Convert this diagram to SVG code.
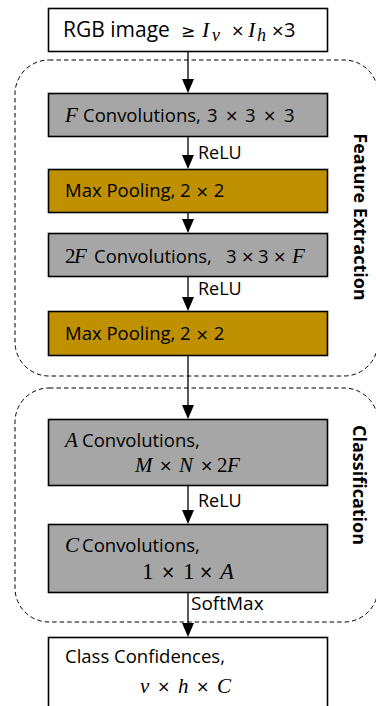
<svg xmlns="http://www.w3.org/2000/svg" width="376" height="706" viewBox="0 0 376 706">
<style>
.box{stroke:#000;stroke-width:1.6}
.white{fill:#fff}
.gray{fill:#a6a6a6}
.gold{fill:#bf9000}
.grp{fill:none;stroke:#000;stroke-width:1;stroke-dasharray:4.5 3}
.t{font-family:"Open Sans","Noto Sans",sans-serif;font-size:18.5px;fill:#000}
.lbl{font-family:"Open Sans","Noto Sans",sans-serif;font-size:18px;fill:#000}
.m{font-family:"Liberation Serif","DejaVu Serif",serif;font-style:italic;font-size:21px;fill:#000}
.n{font-family:"Liberation Serif","DejaVu Serif",serif;font-size:21px;fill:#000}
.x{font-family:"DejaVu Sans",sans-serif;font-size:16px;fill:#000}
.side{font-family:"Open Sans","Noto Sans",sans-serif;font-weight:bold;font-size:18px;fill:#000}
.edge{stroke:#000;stroke-width:1.3;fill:none}
</style>

<g id="group-feature">
<rect class="grp" x="15" y="60" width="363" height="316" rx="34" ry="34"/>
<text class="side" transform="translate(354 217) rotate(90)" text-anchor="middle">Feature Extraction</text>
</g>
<g id="group-classification">
<rect class="grp" x="15" y="388" width="363" height="234" rx="34" ry="34"/>
<text class="side" transform="translate(353 485) rotate(90)" text-anchor="middle">Classification</text>
</g>

<g id="connectors">
<g class="edge">
<line x1="188" y1="52" x2="188" y2="80"/>
<line x1="188" y1="137" x2="188" y2="156"/>
<line x1="188" y1="213" x2="188" y2="220"/>
<line x1="188" y1="277" x2="188" y2="298"/>
<line x1="188" y1="356" x2="188" y2="406"/>
<line x1="188" y1="486" x2="188" y2="511"/>
<line x1="188" y1="593" x2="188" y2="624"/>
</g>
<g fill="#000">
<path d="M182,79 L194,79 L188,93 Z"/>
<path d="M182,155 L194,155 L188,169 Z"/>
<path d="M182,219 L194,219 L188,233 Z"/>
<path d="M182,297 L194,297 L188,311 Z"/>
<path d="M182,405 L194,405 L188,419 Z"/>
<path d="M182,510 L194,510 L188,524 Z"/>
<path d="M182,623 L194,623 L188,637 Z"/>
</g>
<text class="lbl" x="198" y="159">ReLU</text>
<text class="lbl" x="198" y="295">ReLU</text>
<text class="lbl" x="198" y="507">ReLU</text>
<text class="lbl" x="191" y="610" style="font-size:19px">SoftMax</text>
</g>

<g id="node-rgb">
<rect class="box white" x="48.5" y="8.5" width="279" height="43"/>
<text class="t" x="63" y="37" style="font-size:21px">RGB image</text>
<text class="x" x="181" y="37" style="font-size:17px">≥</text>
<text class="m" x="202" y="37" style="font-size:22px">I</text><text class="m" x="212" y="41" style="font-size:18px">v</text>
<text class="x" x="231" y="36">×</text>
<text class="m" x="248" y="37" style="font-size:22px">I</text><text class="m" x="257" y="41" style="font-size:18px">h</text>
<text class="x" x="271" y="36">×</text>
<text class="t" x="284" y="37" style="font-size:20px">3</text>
</g>

<g id="node-conv1">
<rect class="box gray" x="48.5" y="93.5" width="279" height="43"/>
<text class="m" x="65" y="122">F</text>
<text class="t" x="83" y="122">Convolutions,</text>
<text class="t" x="207" y="122">3</text>
<text class="x" x="225" y="121">×</text>
<text class="t" x="245" y="122">3</text>
<text class="x" x="263" y="121">×</text>
<text class="t" x="284" y="122">3</text>
</g>

<g id="node-pool1">
<rect class="box gold" x="48.5" y="169.5" width="279" height="43"/>
<text class="t" x="65" y="197">Max Pooling, 2 <tspan style="font-family:'DejaVu Sans',sans-serif;font-size:16px">×</tspan> 2</text>
</g>

<g id="node-conv2">
<rect class="box gray" x="48.5" y="233.5" width="279" height="43"/>
<text class="n" x="65" y="263">2</text><text class="m" x="74" y="263">F</text>
<text class="t" x="94" y="263">Convolutions,</text>
<text class="t" x="226" y="263">3</text>
<text class="x" x="241" y="262">×</text>
<text class="t" x="258" y="263">3</text>
<text class="x" x="273" y="262">×</text>
<text class="m" x="292" y="263">F</text>
</g>

<g id="node-pool2">
<rect class="box gold" x="48.5" y="311.5" width="279" height="44"/>
<text class="t" x="65" y="340">Max Pooling, 2 <tspan style="font-family:'DejaVu Sans',sans-serif;font-size:16px">×</tspan> 2</text>
</g>

<g id="node-convA">
<rect class="box gray" x="48.5" y="419.5" width="279" height="66"/>
<text class="m" x="65" y="447">A</text>
<text class="t" x="82" y="447">Convolutions,</text>
<text class="m" x="135" y="472">M</text>
<text class="x" x="159" y="471">×</text>
<text class="m" x="179" y="472">N</text>
<text class="x" x="200" y="471">×</text>
<text class="n" x="217" y="472">2</text><text class="m" x="227" y="472">F</text>
</g>

<g id="node-convC">
<rect class="box gray" x="48.5" y="524.5" width="279" height="68"/>
<text class="m" x="65" y="552">C</text>
<text class="t" x="82" y="552">Convolutions,</text>
<text class="n" x="142" y="579" style="font-size:23px">1</text>
<text class="x" x="161" y="578" style="font-size:17px">×</text>
<text class="n" x="183" y="579" style="font-size:23px">1</text>
<text class="x" x="199" y="578" style="font-size:17px">×</text>
<text class="m" x="220" y="579" style="font-size:23px">A</text>
</g>

<g id="node-output">
<rect class="box white" x="48.5" y="637.5" width="279" height="72"/>
<text class="t" x="65" y="663">Class Confidences,</text>
<text class="m" x="140" y="693">v</text>
<text class="x" x="157" y="692">×</text>
<text class="m" x="178" y="693">h</text>
<text class="x" x="196" y="692">×</text>
<text class="m" x="217" y="693">C</text>
</g>
</svg>
